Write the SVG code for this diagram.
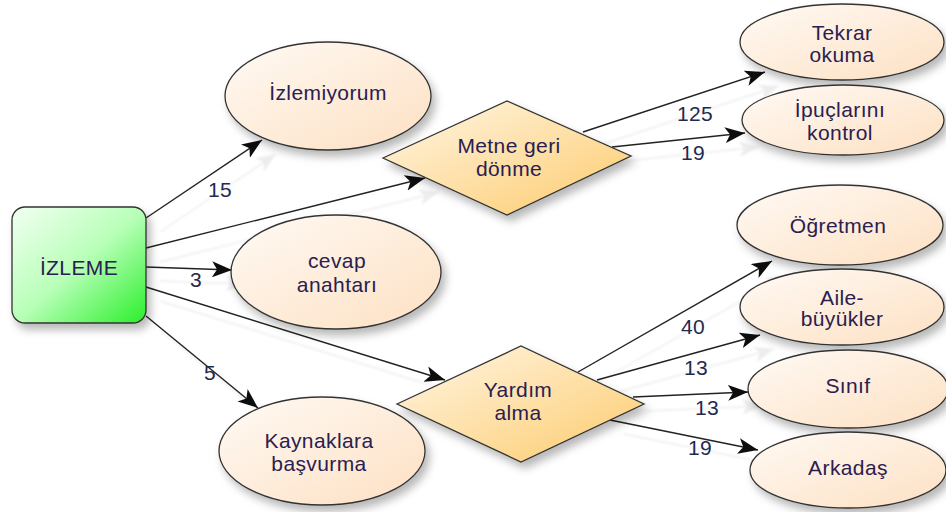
<svg xmlns="http://www.w3.org/2000/svg" width="946" height="512" viewBox="0 0 946 512">
<defs>
<linearGradient id="gBox" x1="0" y1="0" x2="1" y2="1">
<stop offset="0" stop-color="#f2fff2"/>
<stop offset="0.5" stop-color="#b8ffb8"/>
<stop offset="1" stop-color="#2bef2b"/>
</linearGradient>
<linearGradient id="gEll" x1="0" y1="0" x2="1" y2="1">
<stop offset="0" stop-color="#fffaf5"/>
<stop offset="1" stop-color="#fde0c2"/>
</linearGradient>
<linearGradient id="gDia" x1="0" y1="0" x2="1" y2="1">
<stop offset="0" stop-color="#fff6e6"/>
<stop offset="1" stop-color="#fdcb6c"/>
</linearGradient>
<filter id="nodeShadow" x="-20%" y="-20%" width="150%" height="160%">
<feDropShadow dx="4" dy="6" stdDeviation="4" flood-color="#000" flood-opacity="0.28"/>
</filter>
<filter id="lineShadow" x="-10%" y="-10%" width="130%" height="140%">
<feDropShadow dx="14" dy="14" stdDeviation="1.2" flood-color="#000" flood-opacity="0.07"/>
</filter>
<marker id="arr" markerUnits="userSpaceOnUse" markerWidth="22" markerHeight="16" refX="20" refY="8" orient="auto">
<path d="M0,0 L20,8 L0,16 L5,8 z" fill="#111"/>
</marker>
</defs>
<style>
.ell{fill:url(#gEll);stroke:#333;stroke-width:1.3;filter:url(#nodeShadow)}
.dia{fill:url(#gDia);stroke:#333;stroke-width:1.3;filter:url(#nodeShadow)}
.box{fill:url(#gBox);stroke:#333;stroke-width:1.3;filter:url(#nodeShadow)}
.t{font-family:"Liberation Sans",Arial,sans-serif;font-size:21px;letter-spacing:0.4px;fill:#2a2050;text-anchor:middle}
.lbl{font-family:"Liberation Sans",Arial,sans-serif;font-size:21px;letter-spacing:0.3px;fill:#1f2a50;text-anchor:middle}
.c{stroke:#222;stroke-width:1.4;fill:none;marker-end:url(#arr)}
</style>
<rect width="946" height="512" fill="#fff"/>

<g id="connectors" filter="url(#lineShadow)">
<line class="c" x1="146" y1="218" x2="262" y2="140"/>
<line class="c" x1="146" y1="248" x2="425" y2="178"/>
<line class="c" x1="146" y1="267" x2="232" y2="270"/>
<line class="c" x1="146" y1="287" x2="445" y2="380"/>
<line class="c" x1="146" y1="316" x2="258" y2="408"/>
<line class="c" x1="583" y1="132" x2="765" y2="72"/>
<line class="c" x1="612" y1="147" x2="745" y2="133"/>
<line class="c" x1="578" y1="372" x2="772" y2="261"/>
<line class="c" x1="597" y1="380" x2="760" y2="335"/>
<line class="c" x1="633" y1="397" x2="748" y2="392"/>
<line class="c" x1="610" y1="420" x2="758" y2="450"/>
</g>

<g id="edge-labels">
<text class="lbl" x="220" y="197">15</text>
<text class="lbl" x="196" y="287">3</text>
<text class="lbl" x="210" y="380">5</text>
<text class="lbl" x="695" y="121">125</text>
<text class="lbl" x="693" y="160">19</text>
<text class="lbl" x="693" y="334">40</text>
<text class="lbl" x="696" y="375">13</text>
<text class="lbl" x="707" y="415">13</text>
<text class="lbl" x="700" y="455">19</text>
</g>

<g id="izleme">
<rect class="box" x="12" y="207" width="134" height="116" rx="13"/>
<text class="t" x="79" y="275">İZLEME</text>
</g>
<g id="izlemiyorum">
<ellipse class="ell" cx="328" cy="96" rx="103" ry="54"/>
<text class="t" x="328" y="100">İzlemiyorum</text>
</g>
<g id="cevap-anahtari">
<ellipse class="ell" cx="336" cy="272" rx="105" ry="57"/>
<text class="t" x="337" y="268">cevap</text>
<text class="t" x="337" y="292">anahtarı</text>
</g>
<g id="kaynaklara">
<ellipse class="ell" cx="322" cy="451" rx="103" ry="54"/>
<text class="t" x="319" y="448">Kaynaklara</text>
<text class="t" x="319" y="471">başvurma</text>
</g>
<g id="metne-geri-donme">
<polygon class="dia" points="383,158 507,101 631,156 507,215"/>
<text class="t" x="509" y="153">Metne geri</text>
<text class="t" x="509" y="176">dönme</text>
</g>
<g id="yardim-alma">
<polygon class="dia" points="397,404 521,346 644,404 521,462"/>
<text class="t" x="518" y="397">Yardım</text>
<text class="t" x="518" y="420">alma</text>
</g>
<g id="tekrar-okuma">
<ellipse class="ell" cx="842" cy="42" rx="102" ry="38"/>
<text class="t" x="842" y="40">Tekrar</text>
<text class="t" x="842" y="62">okuma</text>
</g>
<g id="ipuclarini-kontrol">
<ellipse class="ell" cx="843" cy="120" rx="101" ry="35"/>
<text class="t" x="840" y="117">İpuçlarını</text>
<text class="t" x="840" y="140">kontrol</text>
</g>
<g id="ogretmen">
<ellipse class="ell" cx="840" cy="225" rx="103" ry="40"/>
<text class="t" x="838" y="233">Öğretmen</text>
</g>
<g id="aile-buyukler">
<ellipse class="ell" cx="842" cy="307" rx="102" ry="38"/>
<text class="t" x="842" y="305">Aile-</text>
<text class="t" x="842" y="326">büyükler</text>
</g>
<g id="sinif">
<ellipse class="ell" cx="848" cy="389" rx="100" ry="39"/>
<text class="t" x="848" y="393">Sınıf</text>
</g>
<g id="arkadas">
<ellipse class="ell" cx="848" cy="470" rx="98" ry="38"/>
<text class="t" x="848" y="475">Arkadaş</text>
</g>
</svg>
